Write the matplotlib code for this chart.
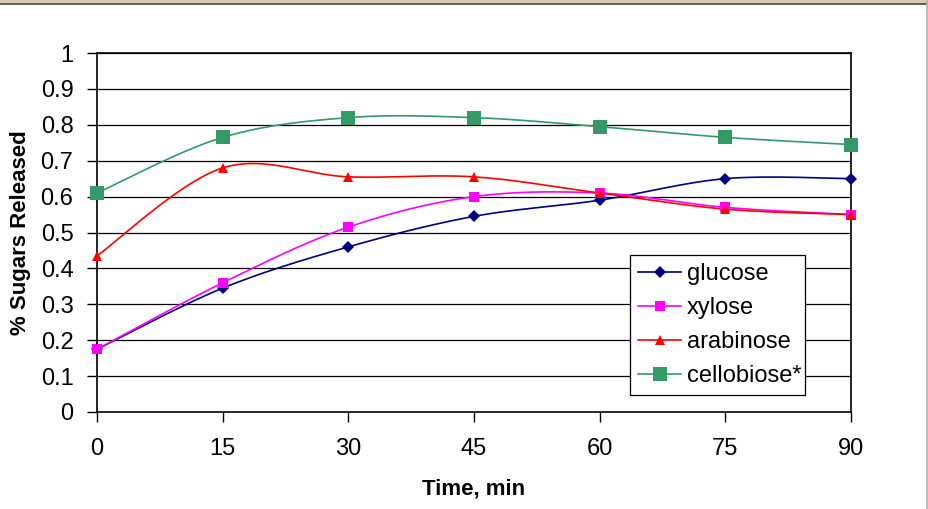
import numpy as np
import matplotlib.pyplot as plt
from matplotlib.patches import Rectangle
from matplotlib.lines import Line2D

time_min = [0, 15, 30, 45, 60, 75, 90]
glucose = [0.175, 0.345, 0.46, 0.545, 0.59, 0.65, 0.65]
xylose = [0.175, 0.36, 0.515, 0.60, 0.61, 0.57, 0.55]
arabinose = [0.435, 0.68, 0.655, 0.655, 0.61, 0.565, 0.55]
cellobiose = [0.61, 0.765, 0.82, 0.82, 0.795, 0.765, 0.745]
y_ticks = [0, 0.1, 0.2, 0.3, 0.4, 0.5, 0.6, 0.7, 0.8, 0.9, 1]
y_labels = ['0', '0.1', '0.2', '0.3', '0.4', '0.5', '0.6', '0.7', '0.8', '0.9', '1']


def smooth(x, y, n=30):
    # Excel-like smoothed line: cubic Bezier through the points
    x = np.asarray(x, float)
    y = np.asarray(y, float)
    px = np.concatenate([[x[0]], x, [x[-1]]])
    py = np.concatenate([[y[0]], y, [y[-1]]])
    xs, ys = [], []
    t = np.linspace(0, 1, n)
    for i in range(1, len(px) - 2):
        p0 = np.array([px[i], py[i]])
        p3 = np.array([px[i + 1], py[i + 1]])
        c1 = p0 + (np.array([px[i + 1], py[i + 1]]) - np.array([px[i - 1], py[i - 1]])) / 6
        c2 = p3 - (np.array([px[i + 2], py[i + 2]]) - np.array([px[i], py[i]])) / 6
        b = ((1 - t) ** 3)[:, None] * p0 + (3 * (1 - t) ** 2 * t)[:, None] * c1 \
            + (3 * (1 - t) * t ** 2)[:, None] * c2 + (t ** 3)[:, None] * p3
        xs.extend(b[:, 0])
        ys.extend(b[:, 1])
    return xs, ys


plt.rcParams['font.family'] = ['Liberation Sans', 'DejaVu Sans']

fig = plt.figure(figsize=(9.29, 5.09), dpi=100)
ax = fig.add_axes([97 / 929, 1 - 412 / 509, 754 / 929, 359 / 509])

series = [
    ('glucose', glucose, '#000080', 'D', 6.5, 1.2),
    ('xylose', xylose, '#FF00FF', 's', 6.5, 1.2),
    ('arabinose', arabinose, '#FF0000', '^', 7.5, 1.2),
    ('cellobiose*', cellobiose, '#339966', 's', 10.5, 1.2),
]

for val in y_ticks[1:]:
    ax.axhline(val, color='black', lw=0.9, zorder=1)

handles = []
for name, vals, col, mk, ms, lw in series:
    sx, sy = smooth(time_min, vals)
    ax.plot(sx, sy, color=col, lw=lw, zorder=3)
    ax.plot(time_min, vals, ls='none', marker=mk, color=col, markersize=ms,
            markeredgewidth=0, zorder=4, clip_on=False)
    handles.append(Line2D([], [], color=col, lw=lw, marker=mk, markersize=ms,
                          markeredgewidth=0))

ax.set_xlim(0, 90)
ax.set_ylim(0, 1)
ax.set_xticks(time_min)
ax.set_xticklabels([str(t) for t in time_min])
ax.set_yticks(y_ticks)
ax.set_yticklabels(y_labels)
ax.tick_params(direction='out', length=7, width=1, labelsize=17, colors='black')
ax.tick_params(axis='x', pad=12)
ax.tick_params(axis='y', pad=10)
for s in ax.spines.values():
    s.set_linewidth(1.2)
    s.set_color('black')

ax.set_xlabel('Time, min', fontsize=16, fontweight='bold', labelpad=13)
ax.set_ylabel('% Sugars Released', fontsize=16, fontweight='bold', labelpad=7)

leg = ax.legend(handles, [s[0] for s in series], loc='upper left',
                bbox_to_anchor=(0.707, 0.437, 0.232, 0.0), mode='expand',
                fontsize=17, frameon=True, fancybox=False, handlelength=1.8,
                borderaxespad=0, labelspacing=0.5, handletextpad=0.25,
                borderpad=0.35)
leg.get_frame().set_edgecolor('black')
leg.get_frame().set_linewidth(0.9)
leg.get_frame().set_facecolor('white')
leg.get_frame().set_alpha(1)
leg.set_zorder(5)

# outer window frame
fig.patches.append(Rectangle((0, 1 - 3 / 509), 1, 3 / 509, transform=fig.transFigure,
                             facecolor='#d8ccb0', edgecolor='none'))
fig.lines.append(Line2D([0, 1], [1 - 3.5 / 509] * 2, transform=fig.transFigure,
                        color='#404040', lw=1.2))
fig.lines.append(Line2D([1 - 1.5 / 929] * 2, [0, 1], transform=fig.transFigure,
                        color='#b0b0b0', lw=1.2))

fig.savefig('out.png', dpi=100)
